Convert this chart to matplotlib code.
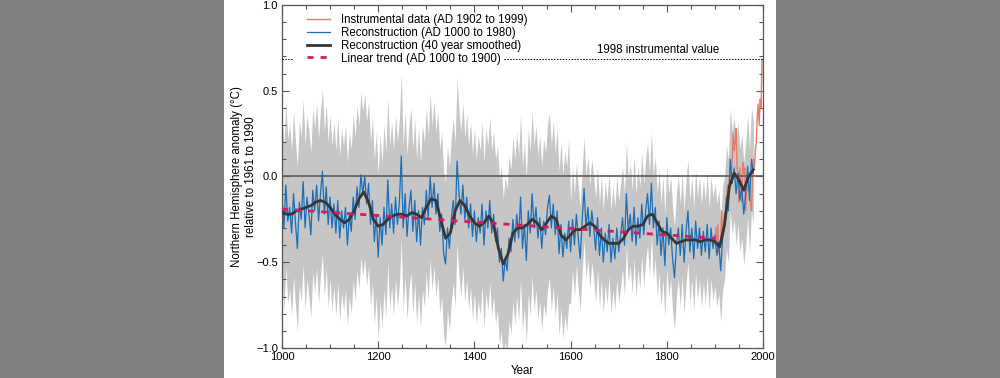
# --- External Imports ---
import numpy
import matplotlib
matplotlib.use( "Agg" )
import matplotlib.pyplot as pyplot
import matplotlib.ticker as ticker
from matplotlib.patches import Rectangle


pyplot.rcParams[ "font.family" ] = [ "Liberation Sans", "DejaVu Sans" ]
pyplot.rcParams[ "font.size" ] = 8.0

# --- Data ---
# Reconstruction, sampled every 4 years (AD 1000 to 1980)
reconstructionStart = 1000
reconstructionStep = 4
reconstruction = [
    -0.12, -0.30, -0.05, -0.26, -0.18, -0.33, -0.10, -0.27, -0.42, -0.15,
    -0.25, -0.03, -0.30, -0.12, -0.22, -0.34, -0.08, -0.20, -0.05, -0.26,
    -0.10,  0.03, -0.22, -0.06, -0.28, -0.12, -0.30, -0.16, -0.33, -0.14,
    -0.36, -0.20, -0.30, -0.18, -0.40, -0.22, -0.32, -0.12, -0.25, -0.06,
    -0.18,  0.01, -0.10,  0.00, -0.16, -0.04, -0.28, -0.14, -0.38, -0.22,
    -0.47, -0.24, -0.40, -0.18, -0.34, -0.02, -0.30, -0.16, -0.33, -0.12,
    -0.28, -0.15,  0.12, -0.30, -0.10, -0.35, -0.18, -0.08, -0.32, -0.14,
    -0.38, -0.20, -0.40, -0.18, -0.28, -0.08, -0.24,  0.00, -0.18, -0.04,
    -0.22, -0.10, -0.32, -0.22, -0.45, -0.51, -0.30, -0.42, -0.25, -0.14,
    -0.28,  0.09, -0.10, -0.22, -0.05, -0.25, -0.12, -0.30, -0.16, -0.35,
    -0.20, -0.38, -0.24, -0.33, -0.16, -0.40, -0.20, -0.30, -0.14, -0.33,
    -0.22, -0.38, -0.30, -0.50, -0.42, -0.61, -0.48, -0.55, -0.36, -0.44,
    -0.25, -0.38, -0.22, -0.36, -0.12, -0.42, -0.28, -0.49, -0.20, -0.33,
    -0.10, -0.30, -0.18, -0.36, -0.24, -0.42, -0.26, -0.34, -0.18, -0.11,
    -0.30, -0.16, -0.34, -0.20, -0.45, -0.28, -0.47, -0.33, -0.42, -0.26,
    -0.44, -0.25, -0.40, -0.22, -0.36, -0.48, -0.26, -0.07, -0.30, -0.18,
    -0.35, -0.20, -0.30, -0.43, -0.24, -0.46, -0.30, -0.50, -0.33, -0.44,
    -0.28, -0.50, -0.36, -0.48, -0.30, -0.44, -0.34, -0.24, -0.40, -0.10,
    -0.32, -0.22, -0.38, -0.18, -0.40, -0.24, -0.36, -0.16, -0.34, -0.20,
    -0.10, -0.28, -0.04, -0.30, -0.18, -0.40, -0.26, -0.46, -0.30, -0.52,
    -0.24, -0.40, -0.30, -0.48, -0.59, -0.40, -0.30, -0.46, -0.28, -0.50,
    -0.32, -0.20, -0.44, -0.30, -0.48, -0.26, -0.42, -0.30, -0.46, -0.32,
    -0.44, -0.28, -0.48, -0.30, -0.42, -0.34, -0.46, -0.38, -0.55, -0.36,
    -0.30, -0.12, -0.20,  0.10, -0.04,  0.05, -0.10,  0.02, -0.14, -0.06,
    -0.22, -0.10,  0.06, -0.14,  0.10,  0.02
]

# 2-sigma half width of the grey band, per period
uncertaintyPeriods = [ 1000, 1600 ]
uncertaintyHalfWidth = [ 0.48, 0.30 ]

# 40 year smoothed reconstruction, every 10 years
smoothedStart = 1000
smoothedStep = 10
smoothed = [
    -0.21, -0.22, -0.22, -0.20, -0.19, -0.18, -0.17, -0.15, -0.14, -0.15,
    -0.18, -0.22, -0.25, -0.27, -0.25, -0.20, -0.13, -0.09, -0.15, -0.25,
    -0.29, -0.28, -0.25, -0.23, -0.22, -0.22, -0.23, -0.21, -0.22, -0.24,
    -0.18, -0.13, -0.14, -0.25, -0.36, -0.33, -0.20, -0.14, -0.17, -0.23,
    -0.27, -0.29, -0.27, -0.23, -0.28, -0.42, -0.51, -0.45, -0.33, -0.30,
    -0.30, -0.28, -0.25, -0.27, -0.31, -0.27, -0.23, -0.25, -0.34, -0.37,
    -0.34, -0.31, -0.31, -0.29, -0.27, -0.29, -0.34, -0.37, -0.39, -0.39,
    -0.39, -0.36, -0.31, -0.29, -0.29, -0.28, -0.23, -0.22, -0.27, -0.32,
    -0.33, -0.36, -0.39, -0.38, -0.37, -0.37, -0.37, -0.38, -0.37, -0.37,
    -0.38, -0.41, -0.28, -0.06,  0.02, -0.02, -0.08,  0.00,  0.04
]

# Instrumental data, every 2 years (AD 1902 to 1998)
instrumentalStart = 1902
instrumentalStep = 2
instrumental = [
    -0.30, -0.42, -0.28, -0.45, -0.40, -0.38, -0.20, -0.35, -0.30, -0.22,
    -0.20, -0.18, -0.05, -0.10, -0.02,  0.05,  0.02,  0.10,  0.25,  0.15,
     0.20,  0.28,  0.05,  0.02, -0.15,  0.05, -0.10, -0.15,  0.08,  0.02,
     0.05, -0.20, -0.05, -0.08, -0.02, -0.12, -0.15, -0.20, -0.02,  0.10,
     0.05,  0.15,  0.20,  0.35,  0.42,  0.30,  0.45,  0.40,  0.68
]

# Linear trend AD 1000 to 1900
trendYears = [ 1000, 1900 ]
trendValues = [ -0.19, -0.36 ]

instrumental1998 = 0.685

legendLabels = [
    "Instrumental data (AD 1902 to 1999)",
    "Reconstruction (AD 1000 to 1980)",
    "Reconstruction (40 year smoothed)",
    "Linear trend (AD 1000 to 1900)"
]

colors = {
    "band"          : "#c6c6c6",
    "reconstruction": "#1a6fb8",
    "smoothed"      : "#363636",
    "instrumental"  : "#e87a68",
    "trend"         : "#d81b60",
    "zero"          : "#5a5a5a",
    "spine"         : "#555555"
}

textSize = 8.3


def minusFormat( value, position ):
    return ( "%.1f" % value ).replace( "-", "\u2212" )


if __name__ == "__main__":

    reconstruction = numpy.asarray( reconstruction )
    reconstructionYears = reconstructionStart + reconstructionStep * numpy.arange( len(reconstruction) )
    smoothedYears = smoothedStart + smoothedStep * numpy.arange( len(smoothed) )
    instrumentalYears = instrumentalStart + instrumentalStep * numpy.arange( len(instrumental) )

    halfWidth = numpy.where(
        reconstructionYears < uncertaintyPeriods[1],
        uncertaintyHalfWidth[0],
        uncertaintyHalfWidth[1]
    )

    figure = pyplot.figure( figsize=(10.0, 3.78), dpi=100, facecolor="#808080" )
    figure.add_artist( Rectangle( (0.224, 0.0), 0.552, 1.0, transform=figure.transFigure,
                                  facecolor="white", edgecolor="none", zorder=-10 ) )

    axes = figure.add_axes( [0.282, 0.0794, 0.481, 0.9074] )

    axes.fill_between(
        reconstructionYears,
        reconstruction - halfWidth,
        reconstruction + halfWidth,
        color=colors["band"],
        linewidth=0,
        zorder=1
    )

    axes.axhline( 0.0, color=colors["zero"], linewidth=1.2, zorder=3 )

    instrumentalLine, = axes.plot( instrumentalYears, instrumental,
                                   color=colors["instrumental"], linewidth=1.0, zorder=2 )
    reconstructionLine, = axes.plot( reconstructionYears, reconstruction,
                                     color=colors["reconstruction"], linewidth=0.9, zorder=2.5 )
    smoothedLine, = axes.plot( smoothedYears, smoothed,
                               color=colors["smoothed"], linewidth=2.0, zorder=4 )
    trendLine, = axes.plot( trendYears, trendValues, color=colors["trend"],
                            linewidth=2.0, dashes=(2.2, 2.5), zorder=4.5 )

    axes.text( 1783, instrumental1998 + 0.015, "1998 instrumental value",
               ha="center", va="bottom", fontsize=textSize )

    legend = axes.legend(
        [ instrumentalLine, reconstructionLine, smoothedLine, trendLine ],
        legendLabels,
        loc="upper left",
        bbox_to_anchor=(0.035, 0.998),
        frameon=False,
        handlelength=2.0,
        handletextpad=1.0,
        labelspacing=0.08,
        borderpad=0.2,
        fontsize=textSize
    )
    legend.set_zorder( 10 )

    axes.set_xlim( 1000, 2000 )
    axes.set_ylim( -1.0, 1.0 )
    axes.xaxis.set_major_locator( ticker.MultipleLocator( 200 ) )
    axes.xaxis.set_minor_locator( ticker.MultipleLocator( 50 ) )
    axes.yaxis.set_major_locator( ticker.MultipleLocator( 0.5 ) )
    axes.yaxis.set_minor_locator( ticker.MultipleLocator( 0.1 ) )
    axes.yaxis.set_major_formatter( ticker.FuncFormatter( minusFormat ) )

    axes.tick_params( which="both", direction="in", top=True, right=True,
                      colors=colors["spine"], labelcolor="black", labelsize=8.0 )
    axes.tick_params( which="major", length=5, width=0.8, pad=3 )
    axes.tick_params( which="minor", length=3, width=0.8 )

    for spine in axes.spines.values():
        spine.set_color( colors["spine"] )
        spine.set_linewidth( 0.9 )

    axes.set_xlabel( "Year", fontsize=textSize, labelpad=2 )
    axes.set_ylabel( "Northern Hemisphere anomaly (°C)\nrelative to 1961 to 1990",
                     fontsize=textSize, labelpad=-1, linespacing=1.3 )

    # dotted 1998 line, interrupted where the legend sits
    figure.canvas.draw()
    renderer = figure.canvas.get_renderer()
    toData = axes.transData.inverted()
    legendBox = legend.get_window_extent( renderer )
    lastTextBox = legend.get_texts()[-1].get_window_extent( renderer )
    gapStart = toData.transform( (legendBox.x0 - 12, 0) )[0]
    gapEnd = toData.transform( (lastTextBox.x1 + 3, 0) )[0]
    dotStyle = dict( color="black", linewidth=0.7, linestyle=(0, (1.5, 1.5)), zorder=3 )
    axes.plot( [1000, gapStart], [instrumental1998, instrumental1998], **dotStyle )
    axes.plot( [gapEnd, 2000], [instrumental1998, instrumental1998], **dotStyle )

    pyplot.savefig( "out.png", dpi=100, facecolor=figure.get_facecolor() )
